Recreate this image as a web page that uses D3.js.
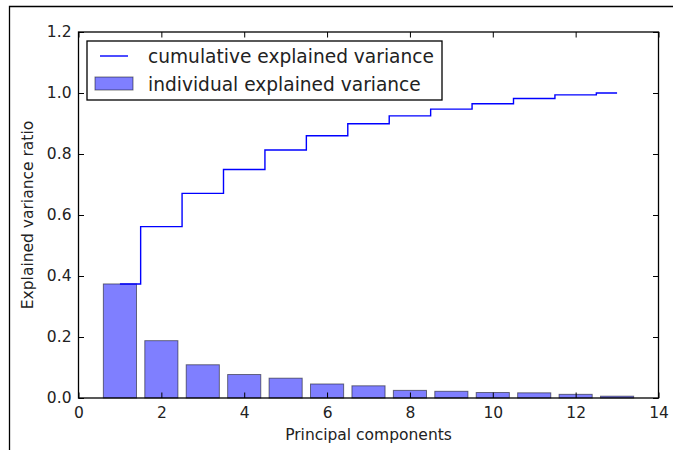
<!DOCTYPE html>
<html>
<head>
<meta charset="utf-8">
<script src="https://cdn.jsdelivr.net/npm/d3@7"></script>
<style>
  body { margin: 0; background: #fff; }
  text { font-family: "DejaVu Sans", sans-serif; fill: #222; }
</style>
</head>
<body>
<div id="chart"></div>
<script>
// Data
var components = [1, 2, 3, 4, 5, 6, 7, 8, 9, 10, 11, 12, 13];
var individual = [0.374, 0.188, 0.109, 0.077, 0.065, 0.046, 0.040, 0.025, 0.022, 0.018, 0.017, 0.012, 0.006];
var cumulative = [0.374, 0.562, 0.671, 0.749, 0.813, 0.860, 0.899, 0.925, 0.947, 0.965, 0.982, 0.994, 1.0];
var xTicks = [0, 2, 4, 6, 8, 10, 12, 14];
var yTicks = [0.0, 0.2, 0.4, 0.6, 0.8, 1.0, 1.2];
var legendLabels = ["cumulative explained variance", "individual explained variance"];

var width = 673, height = 450;
var margin = {top: 32, right: 14.5, bottom: 52, left: 78.5};
var w = width - margin.left - margin.right;
var h = height - margin.top - margin.bottom;

var svg = d3.select("#chart").append("svg")
    .attr("width", width)
    .attr("height", height);

// outer frame (only top and left edges show in the crop)
svg.append("path")
    .attr("d", "M9.5,450 V6.5 H673")
    .attr("fill", "none")
    .attr("stroke", "#000")
    .attr("stroke-width", 1.3);

var g = svg.append("g").attr("transform", "translate(" + margin.left + "," + margin.top + ")");

var x = d3.scaleLinear().domain([0, 14]).range([0, w]);
var y = d3.scaleLinear().domain([0, 1.2]).range([h, 0]);

// bars
g.selectAll(".bar")
    .data(components)
    .enter()
    .append("rect")
    .attr("class", "bar")
    .attr("x", function (d) { return x(d - 0.4); })
    .attr("y", function (d, i) { return y(individual[i]); })
    .attr("width", function (d) { return x(0.8) - x(0); })
    .attr("height", function (d, i) { return y(0) - y(individual[i]); })
    .attr("fill", "#0000ff")
    .attr("fill-opacity", 0.5)
    .attr("stroke", "#000")
    .attr("stroke-opacity", 0.5)
    .attr("stroke-width", 1);

// cumulative step line (matplotlib where='mid')
var line = d3.line()
    .x(function (d, i) { return x(components[i]); })
    .y(function (d) { return y(d); })
    .curve(d3.curveStep);

g.append("path")
    .datum(cumulative)
    .attr("d", line)
    .attr("fill", "none")
    .attr("stroke", "#0000ff")
    .attr("stroke-width", 1.4);

// axes, ticks pointing inward on all four sides
var tickLen = 5.5;
g.append("g").attr("transform", "translate(0," + h + ")")
    .call(d3.axisBottom(x).tickValues(xTicks).tickSizeInner(-tickLen).tickSizeOuter(0).tickPadding(9));
g.append("g")
    .call(d3.axisLeft(y).tickValues(yTicks).tickFormat(d3.format(".1f")).tickSizeInner(-tickLen).tickSizeOuter(0).tickPadding(7));
g.append("g")
    .call(d3.axisTop(x).tickValues(xTicks).tickSizeInner(-tickLen).tickSizeOuter(0).tickFormat(""));
g.append("g").attr("transform", "translate(" + w + ",0)")
    .call(d3.axisRight(y).tickValues(yTicks).tickSizeInner(-tickLen).tickSizeOuter(0).tickFormat(""));

g.selectAll(".domain").remove();
g.selectAll(".tick line").attr("stroke", "#000").attr("stroke-width", 1);
g.selectAll(".tick text").style("font-size", "15.5px").attr("fill", "#222");

g.append("rect")
    .attr("width", w).attr("height", h)
    .attr("fill", "none")
    .attr("stroke", "#000")
    .attr("stroke-width", 1.3);

// axis labels
g.append("text")
    .attr("x", w / 2)
    .attr("y", h + 42)
    .attr("text-anchor", "middle")
    .style("font-size", "15.5px")
    .text("Principal components");

g.append("text")
    .attr("transform", "translate(" + (-46) + "," + (h / 2) + ") rotate(-90)")
    .attr("text-anchor", "middle")
    .style("font-size", "15.5px")
    .text("Explained variance ratio");

// legend
var leg = g.append("g").attr("transform", "translate(8.5,9)");
leg.append("rect")
    .attr("width", 355).attr("height", 59)
    .attr("fill", "#fff")
    .attr("stroke", "#000")
    .attr("stroke-width", 1.3);
leg.append("line")
    .attr("x1", 13).attr("x2", 41).attr("y1", 15).attr("y2", 15)
    .attr("stroke", "#0000ff").attr("stroke-width", 1.4);
leg.append("rect")
    .attr("x", 8).attr("y", 36).attr("width", 38).attr("height", 13)
    .attr("fill", "#0000ff").attr("fill-opacity", 0.5)
    .attr("stroke", "#000").attr("stroke-opacity", 0.5);
leg.selectAll(".legtext")
    .data(legendLabels)
    .enter()
    .append("text")
    .attr("class", "legtext")
    .attr("x", 61)
    .attr("y", function (d, i) { return 15 + i * 28; })
    .attr("dy", "0.35em")
    .style("font-size", "18.6px")
    .text(function (d) { return d; });
</script>
</body>
</html>
